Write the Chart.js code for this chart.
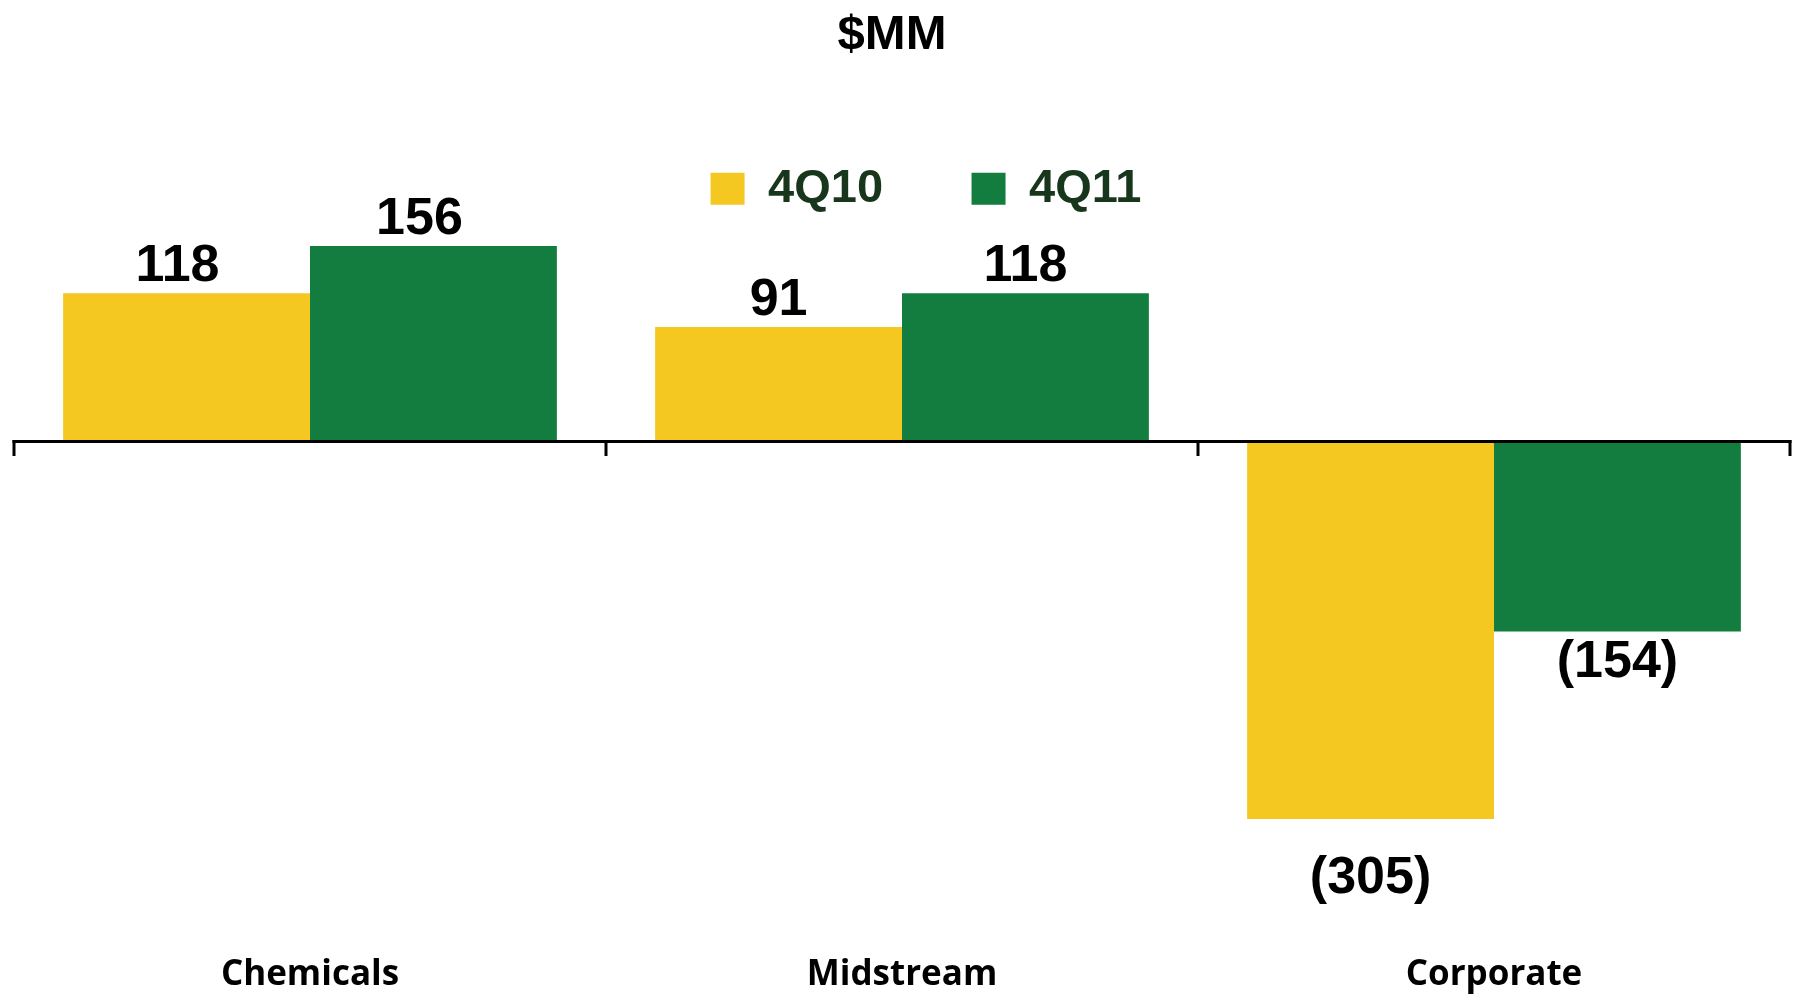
<!DOCTYPE html>
<html>
<head>
<meta charset="utf-8">
<title>$MM by segment</title>
<script src="https://cdn.jsdelivr.net/npm/chart.js@4.4.1/dist/chart.umd.min.js"></script>
<style>
  html, body { margin: 0; padding: 0; background: #ffffff; }
  #wrap { width: 1796px; height: 997px; }
</style>
</head>
<body>
<div id="wrap"><canvas id="chart" width="1796" height="997"></canvas></div>
<script>
// Segment results, $MM
const categories = ['Chemicals', 'Midstream', 'Corporate'];
const seriesNames = ['4Q10', '4Q11'];
const values4Q10 = [118, 91, -305];
const values4Q11 = [156, 118, -154];
const chartTitle = '$MM';

const COLOR_4Q10 = '#F4C721';
const COLOR_4Q11 = '#137D3F';
const LEGEND_TEXT = '#17361B';

// Vertical scale: where the zero line sits and how many pixels one $MM spans
const ZERO_LINE_Y = 440;
const PX_PER_UNIT = 1.243;

// Negative values are shown in accounting style: (305)
function formatValue(v) {
  return v < 0 ? '(' + Math.abs(v) + ')' : String(v);
}

// Zero line with category divider ticks hanging below it
const zeroAxisPlugin = {
  id: 'zeroAxis',
  afterDatasetsDraw(chart) {
    const { ctx, chartArea, scales } = chart;
    const y0 = scales.y.getPixelForValue(0);
    const n = chart.data.labels.length;
    const step = (chartArea.right - chartArea.left) / n;
    ctx.save();
    ctx.strokeStyle = '#000000';
    ctx.lineWidth = 3;
    ctx.beginPath();
    ctx.moveTo(chartArea.left - 1.5, y0 + 1.5);
    ctx.lineTo(chartArea.right + 1.5, y0 + 1.5);
    ctx.stroke();
    ctx.beginPath();
    for (let i = 0; i <= n; i++) {
      const x = chartArea.left + i * step;
      ctx.moveTo(x, y0);
      ctx.lineTo(x, y0 + 16);
    }
    ctx.stroke();
    ctx.restore();
  }
};

// Value labels at the end of each bar
const barLabelPlugin = {
  id: 'barLabels',
  afterDatasetsDraw(chart) {
    const { ctx } = chart;
    ctx.save();
    ctx.font = 'bold 52px "Liberation Sans", Arial, sans-serif';
    ctx.fillStyle = '#000000';
    ctx.textAlign = 'center';
    ctx.textBaseline = 'alphabetic';
    chart.data.datasets.forEach((ds, di) => {
      const meta = chart.getDatasetMeta(di);
      meta.data.forEach((bar, i) => {
        const v = ds.data[i];
        const drop = (ds.labelExtraDrop && ds.labelExtraDrop[i]) || 0;
        const dx = (ds.labelShiftX && ds.labelShiftX[i]) || 0;
        const y = v >= 0 ? bar.y - 12 : bar.y + 46 + drop;
        ctx.fillText(formatValue(v), bar.x + dx, y);
      });
    });
    ctx.restore();
  }
};

// Horizontal placement of the title and legend blocks
const headerShiftPlugin = {
  id: 'headerShift',
  afterLayout(chart) {
    if (chart.legend) { chart.legend.left += 24; chart.legend.right += 24; }
    if (chart.titleBlock) { chart.titleBlock.left -= 10; chart.titleBlock.right -= 10; }
  }
};

const chart = new Chart(document.getElementById('chart'), {
  type: 'bar',
  data: {
    labels: categories,
    datasets: [
      {
        label: seriesNames[0],
        data: values4Q10,
        backgroundColor: COLOR_4Q10,
        borderWidth: 0,
        barPercentage: 1.0,
        categoryPercentage: 0.834,
        labelExtraDrop: [0, 0, 28],
        labelShiftX: [-9, 0, 0]
      },
      {
        label: seriesNames[1],
        data: values4Q11,
        backgroundColor: COLOR_4Q11,
        borderWidth: 0,
        barPercentage: 1.0,
        categoryPercentage: 0.834,
        labelShiftX: [-14, 0, 0]
      }
    ]
  },
  options: {
    responsive: false,
    animation: false,
    devicePixelRatio: 1,
    layout: { padding: { left: 14, right: 6, top: 0, bottom: -12 } },
    plugins: {
      title: {
        display: true,
        text: chartTitle,
        color: '#000000',
        font: { family: '"Liberation Sans", Arial, sans-serif', size: 49, weight: 'bold' },
        padding: { top: 6, bottom: 12 }
      },
      legend: {
        display: true,
        position: 'top',
        labels: {
          color: LEGEND_TEXT,
          font: { family: '"Liberation Sans", Arial, sans-serif', size: 47, weight: 'bold' },
          boxWidth: 34,
          boxHeight: 32,
          padding: 88.5
        }
      },
      tooltip: { enabled: false }
    },
    scales: {
      x: {
        grid: { display: false, drawTicks: false },
        border: { display: false },
        ticks: {
          color: '#000000',
          font: { family: '"Open Sans", "Noto Sans", sans-serif', size: 35, weight: 'bold', lineHeight: 0.715 },
          padding: 21
        }
      },
      y: {
        display: false,
        min: -400,
        max: 176
      }
    }
  },
  plugins: [zeroAxisPlugin, barLabelPlugin, headerShiftPlugin]
});

// Fit the value range to the plot box so the zero line and the unit size stay fixed
const area = chart.chartArea;
chart.options.scales.y.min = -(area.bottom - ZERO_LINE_Y) / PX_PER_UNIT;
chart.options.scales.y.max = (ZERO_LINE_Y - area.top) / PX_PER_UNIT;
chart.update();
</script>
</body>
</html>
